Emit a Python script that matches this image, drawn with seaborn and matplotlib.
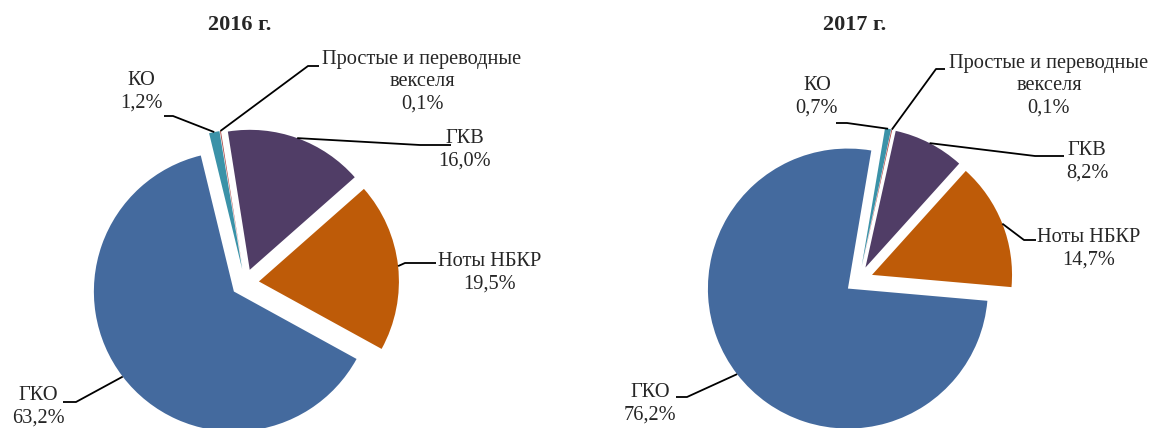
import numpy as np
import matplotlib.pyplot as plt
import seaborn as sns

# ── Оформление ────────────────────────────────────────────────────────────────
sns.set_theme(style="white")
plt.rcParams["font.family"] = ["Liberation Serif", "DejaVu Serif"]

# ── Данные ────────────────────────────────────────────────────────────────────
labels = ["ГКВ", "Ноты НБКР", "ГКО", "КО", "Простые и переводные\nвекселя"]
share_2016 = [16.0, 19.5, 63.2, 1.2, 0.1]
share_2017 = [8.2, 14.7, 76.2, 0.7, 0.1]
years = ["2016 г.", "2017 г."]
colors = sns.color_palette(["#503D66", "#BE5B08", "#446A9E", "#3B92A8", "#A94442"])

# ── Раскладка (в пикселях картинки, начало координат слева сверху) ───────────
W, H, R = 1152, 428, 140
layout = [
    dict(left=0, center=(245, 283), start=351, title=(240, 25),
         text=[(465, 150), (490, 273), (38, 407), (141, 92), (422, 82)],
         elbow=[(420, 145), (405, 263), (76, 402), (173, 116), (308, 66)],
         end=[(451, 145), (436, 263), (63, 402), (164, 116), (319, 66)]),
    dict(left=576, center=(859, 280), start=12.5, title=(855, 25),
         text=[(1087, 162), (1089, 249), (650, 404), (817, 97), (1049, 86)],
         elbow=[(1035, 156), (1024, 240), (687, 397), (847, 123), (936, 69)],
         end=[(1064, 156), (1036, 240), (676, 397), (836, 123), (945, 69)]),
]

fig = plt.figure(figsize=(W / 100, H / 100), dpi=100)


def draw(ax, values, year, lay):
    cx, cy = lay["center"]

    def to_d(x, y):
        return (x - cx) / R, (cy - y) / R

    wedges, _ = ax.pie(
        values,
        colors=colors,
        explode=[0.1] * len(values),
        startangle=90 - lay["start"],
        counterclock=False,
        radius=1,
        wedgeprops=dict(linewidth=0),
    )
    ax.set_xlim((lay["left"] - cx) / R, (lay["left"] + W / 2 - cx) / R)
    ax.set_ylim((cy - H) / R, cy / R)
    ax.set_aspect("auto")
    ax.axis("off")

    ax.text(*to_d(*lay["title"]), year, ha="center", va="center",
            fontsize=16, fontweight="bold")

    for w, lab, v, t, e, h in zip(wedges, labels, values,
                                  lay["text"], lay["elbow"], lay["end"]):
        mid = np.deg2rad((w.theta1 + w.theta2) / 2)
        px0 = w.center[0] + w.r * np.cos(mid)
        py0 = w.center[1] + w.r * np.sin(mid)
        ex, ey = to_d(*e)
        hx, hy = to_d(*h)
        ax.plot([px0, ex, hx], [py0, ey, hy], color="black", lw=1.3,
                clip_on=False, solid_capstyle="butt")
        pct = f"{v:.1f}".replace(".", ",") + "%"
        ax.text(*to_d(*t), f"{lab}\n{pct}", ha="center", va="center",
                multialignment="center", fontsize=14.7, linespacing=1.22)


ax1 = fig.add_axes([0, 0, 0.5, 1])
ax2 = fig.add_axes([0.5, 0, 0.5, 1])
draw(ax1, share_2016, years[0], layout[0])
draw(ax2, share_2017, years[1], layout[1])

fig.savefig("out.png", dpi=100, facecolor="white")
